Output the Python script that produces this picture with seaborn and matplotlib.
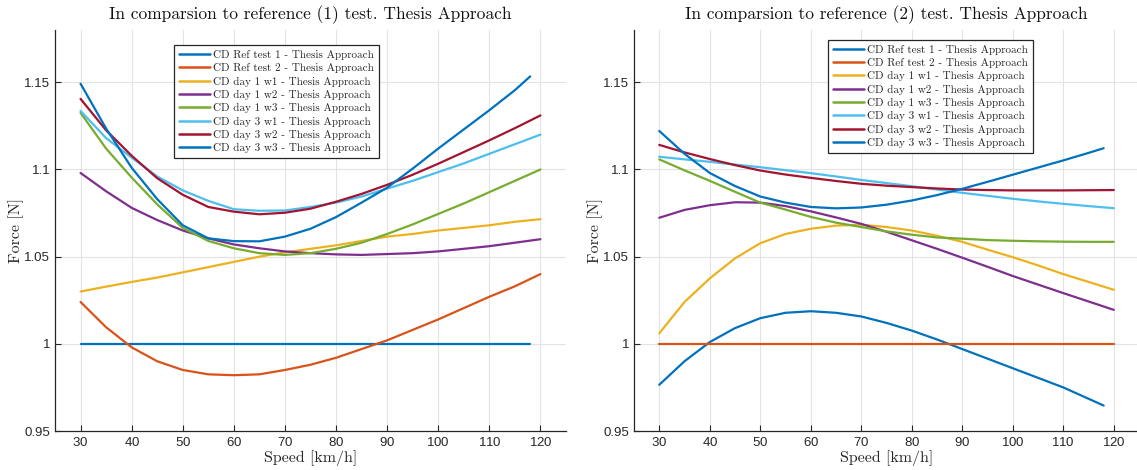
import matplotlib
matplotlib.use("Agg")
import matplotlib.pyplot as plt
import seaborn as sns
import numpy as np
import pandas as pd

sns.set_style("white")
plt.rcParams['font.family'] = ['Liberation Sans', 'DejaVu Sans']
plt.rcParams['axes.formatter.use_mathtext'] = True

SERIF = ['cmr10', 'DejaVu Serif']

# ---------------- data ----------------
speed = [30, 35, 40, 45, 50, 55, 60, 65, 70, 75, 80, 85, 90, 95, 100, 105, 110, 115, 120]
speed_118 = [30, 35, 40, 45, 50, 55, 60, 65, 70, 75, 80, 85, 90, 95, 100, 105, 110, 115, 118]

labels = ["CD Ref test 1 - Thesis Approach", "CD Ref test 2 - Thesis Approach",
          "CD day 1 w1 - Thesis Approach", "CD day 1 w2 - Thesis Approach",
          "CD day 1 w3 - Thesis Approach", "CD day 3 w1 - Thesis Approach",
          "CD day 3 w2 - Thesis Approach", "CD day 3 w3 - Thesis Approach"]
colors = ["#0072BD", "#D95319", "#EDB120", "#7E2F8E", "#77AC30", "#4DBEEE", "#A2142F", "#0072BD"]

# Panel 1: relative to reference (1)
p1_ref1 = [1.0] * 19
p1_ref2 = [1.024, 1.0095, 0.998, 0.990, 0.985, 0.9825, 0.982, 0.9825, 0.985, 0.988,
           0.992, 0.997, 1.002, 1.008, 1.014, 1.0205, 1.027, 1.033, 1.040]
p1_d1w1 = [1.030, 1.0328, 1.0355, 1.038, 1.041, 1.044, 1.047, 1.050, 1.0525, 1.0545,
           1.0565, 1.059, 1.0615, 1.063, 1.065, 1.0665, 1.068, 1.070, 1.0715]
p1_d1w2 = [1.098, 1.0875, 1.078, 1.071, 1.065, 1.0605, 1.057, 1.0548, 1.053, 1.052,
           1.0513, 1.051, 1.0515, 1.052, 1.053, 1.0545, 1.056, 1.058, 1.060]
p1_d1w3 = [1.1325, 1.112, 1.0954, 1.080, 1.0665, 1.059, 1.0548, 1.052, 1.051, 1.052,
           1.0545, 1.058, 1.063, 1.0685, 1.0745, 1.0805, 1.087, 1.0935, 1.100]
p1_d3w1 = [1.1336, 1.118, 1.1068, 1.096, 1.088, 1.082, 1.0772, 1.0763, 1.0765, 1.0785,
           1.081, 1.0845, 1.089, 1.0935, 1.0985, 1.1035, 1.109, 1.1145, 1.120]
p1_d3w2 = [1.1405, 1.1225, 1.1079, 1.095, 1.0855, 1.0785, 1.0758, 1.0743, 1.0752, 1.0775,
           1.0815, 1.086, 1.0912, 1.097, 1.1033, 1.110, 1.1167, 1.1237, 1.131]
p1_d3w3 = [1.1492, 1.1235, 1.101, 1.083, 1.068, 1.0605, 1.0589, 1.0588, 1.0615, 1.066,
           1.0727, 1.081, 1.0896, 1.1005, 1.112, 1.123, 1.134, 1.1455, 1.1534]

# Panel 2: relative to reference (2)
p2_ref1 = [0.9765, 0.990, 1.001, 1.009, 1.0147, 1.0178, 1.0187, 1.0178, 1.0157, 1.012,
           1.0076, 1.0025, 0.997, 0.9915, 0.986, 0.9805, 0.975, 0.9685, 0.9646]
p2_ref2 = [1.0] * 19
p2_d1w1 = [1.006, 1.024, 1.0375, 1.049, 1.0577, 1.063, 1.066, 1.0678, 1.0683, 1.067,
           1.065, 1.062, 1.0585, 1.054, 1.0497, 1.045, 1.040, 1.0355, 1.031]
p2_d1w2 = [1.0723, 1.0768, 1.0795, 1.0812, 1.081, 1.079, 1.076, 1.0725, 1.0688, 1.0643,
           1.0594, 1.0545, 1.0494, 1.0442, 1.0389, 1.034, 1.0291, 1.0243, 1.0195]
p2_d1w3 = [1.1058, 1.0995, 1.0935, 1.0872, 1.081, 1.077, 1.0728, 1.0695, 1.067, 1.0645,
           1.0626, 1.061, 1.0603, 1.0595, 1.0591, 1.0588, 1.0586, 1.0585, 1.0585]
p2_d3w1 = [1.1073, 1.1058, 1.1044, 1.1028, 1.1013, 1.0996, 1.0979, 1.096, 1.094, 1.0922,
           1.0904, 1.0885, 1.0866, 1.0849, 1.0832, 1.0817, 1.0803, 1.079, 1.0778]
p2_d3w2 = [1.1141, 1.1098, 1.106, 1.1025, 1.0994, 1.0971, 1.0952, 1.0934, 1.0918, 1.0907,
           1.0899, 1.0891, 1.0885, 1.0882, 1.088, 1.088, 1.088, 1.0881, 1.0882]
p2_d3w3 = [1.1221, 1.109, 1.098, 1.0905, 1.0845, 1.081, 1.0785, 1.0777, 1.0782, 1.0798,
           1.0822, 1.0853, 1.0889, 1.0929, 1.097, 1.1011, 1.1052, 1.1095, 1.1122]

panel1 = [(speed_118, p1_ref1), (speed, p1_ref2), (speed, p1_d1w1), (speed, p1_d1w2),
          (speed, p1_d1w3), (speed, p1_d3w1), (speed, p1_d3w2), (speed_118, p1_d3w3)]
panel2 = [(speed_118, p2_ref1), (speed, p2_ref2), (speed, p2_d1w1), (speed, p2_d1w2),
          (speed, p2_d1w3), (speed, p2_d3w1), (speed, p2_d3w2), (speed_118, p2_d3w3)]

titles = ["In comparsion to reference (1) test. Thesis Approach",
          "In comparsion to reference (2) test. Thesis Approach"]
xticks = [30, 40, 50, 60, 70, 80, 90, 100, 110, 120]
yticks = [0.95, 1.0, 1.05, 1.1, 1.15]
ytick_labels = ["0.95", "1", "1.05", "1.1", "1.15"]

# ---------------- figure ----------------
fig = plt.figure(figsize=(11.37, 4.70), dpi=100)
ax1 = fig.add_axes([55 / 1137, 1 - 431 / 470, 511 / 1137, 401 / 470])
ax2 = fig.add_axes([634 / 1137, 1 - 431 / 470, 505 / 1137, 401 / 470])

legend_pos = [(0.232, 0.963), (0.384, 0.976)]

for ax, panel, title, lpos in zip([ax1, ax2], [panel1, panel2], titles, legend_pos):
    for (xs, ys), lab, col in zip(panel, labels, colors):
        df = pd.DataFrame({"Speed": xs, "Force": ys})
        sns.lineplot(data=df, x="Speed", y="Force", ax=ax, color=col, label=lab,
                     linewidth=1.6, estimator=None, sort=False)
    ax.set_xlim(25, 125)
    ax.set_ylim(0.95, 1.18)
    ax.set_xticks(xticks)
    ax.set_yticks(yticks)
    ax.set_yticklabels(ytick_labels)
    ax.grid(True, color="#e3e3e3", linewidth=0.8)
    ax.set_axisbelow(True)
    for s in ["top", "right"]:
        ax.spines[s].set_visible(False)
    for s in ["left", "bottom"]:
        ax.spines[s].set_color("#262626")
        ax.spines[s].set_linewidth(0.9)
    ax.tick_params(direction="in", length=4, width=0.8, colors="#262626",
                   labelsize=9.5, labelcolor="#262626", left=True, bottom=True)
    ax.set_title(title, family=SERIF, fontsize=12.5, pad=8, color="#111111")
    ax.set_xlabel("Speed [km/h]", family=SERIF, fontsize=11.5, labelpad=1, color="#262626")
    ax.set_ylabel("Force [N]", family=SERIF, fontsize=11.5, labelpad=0, color="#262626")
    leg = ax.legend(loc="upper left", bbox_to_anchor=lpos, prop={"family": SERIF, "size": 8.0},
                    frameon=True, fancybox=False, framealpha=1, edgecolor="#262626",
                    borderpad=0.45, labelspacing=0.3, handlelength=2.8, handletextpad=0.3,
                    borderaxespad=0)
    leg.get_frame().set_linewidth(0.9)
    for h in leg.get_lines():
        h.set_linewidth(1.8)

fig.savefig("out.png", dpi=100)
